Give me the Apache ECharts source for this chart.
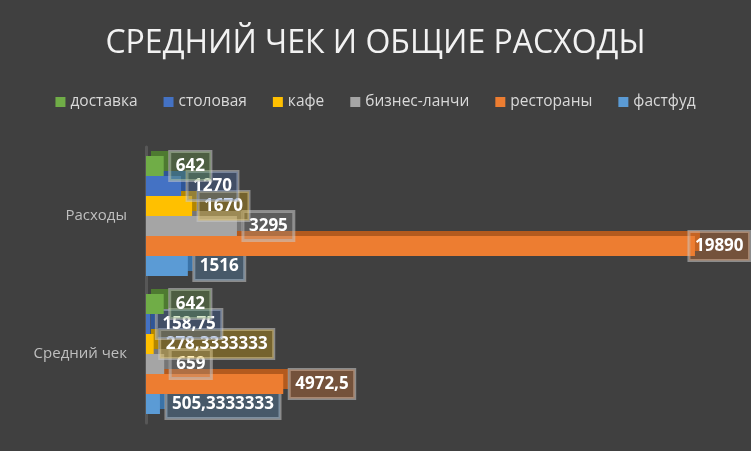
<!DOCTYPE html>
<html>
<head>
<meta charset="utf-8">
<script src="https://cdn.jsdelivr.net/npm/echarts@6/dist/echarts.min.js"></script>
<style>
html,body{margin:0;padding:0;background:#404040;}
#c{width:751px;height:451px;}
</style>
</head>
<body>
<div id="c"></div>
<script>
const titleText = 'СРЕДНИЙ ЧЕК И ОБЩИЕ РАСХОДЫ';
const categories = ['Расходы', 'Средний чек'];
const seriesNames = ['доставка', 'столовая', 'кафе', 'бизнес-ланчи', 'рестораны', 'фастфуд'];
const dostavka = [642, 642];
const stolovaya = [1270, 158.75];
const kafe = [1670, 278.3333333];
const biznesLanchi = [3295, 659];
const restorany = [19890, 4972.5];
const fastfud = [1516, 505.3333333];
const seriesValues = [dostavka, stolovaya, kafe, biznesLanchi, restorany, fastfud];

const colors = ['#70AD47', '#4472C4', '#FFC000', '#A5A5A5', '#ED7D31', '#5B9BD5'];
const darkColors = ['#4E7A31', '#2F5597', '#B38600', '#767676', '#B35A1E', '#3A73A8'];
const boxColors = ['rgba(112,173,71,0.28)', 'rgba(68,114,196,0.28)', 'rgba(255,192,0,0.28)',
  'rgba(165,165,165,0.28)', 'rgba(237,125,49,0.3)', 'rgba(91,155,213,0.28)'];

const allVals = seriesValues.flat();
const maxVal = Math.max(...allVals);

const chart = echarts.init(document.getElementById('c'));
chart.setOption({
  backgroundColor: '#404040',
  animation: false,
  title: {
    text: titleText,
    left: 'center',
    top: 23,
    textStyle: { color: '#f2f2f2', fontSize: 32, fontWeight: 'normal', fontFamily: 'Open Sans' }
  },
  legend: {
    data: seriesNames,
    top: 89,
    left: 'center',
    itemWidth: 10,
    itemHeight: 10,
    itemGap: 26,
    icon: 'rect',
    textStyle: { color: '#d9d9d9', fontSize: 15.5, fontFamily: 'Open Sans' }
  },
  grid: { left: 146, top: 147, width: 552, height: 276, containLabel: false },
  xAxis: {
    type: 'value',
    min: 0,
    max: 20000,
    show: false
  },
  yAxis: {
    type: 'category',
    data: categories,
    inverse: true,
    axisLine: { show: true, lineStyle: { color: '#575757', width: 3 } },
    axisTick: { show: false },
    axisLabel: { color: '#bfbfbf', fontSize: 15, fontFamily: 'Open Sans', margin: 19 }
  },
  series: seriesNames.map((name, i) => ({
    name: name,
    type: 'bar',
    z: 20 - i,
    barGap: '0%',
    barCategoryGap: '13%',
    itemStyle: {
      color: colors[i],
      shadowColor: darkColors[i],
      shadowBlur: 0,
      shadowOffsetX: 5,
      shadowOffsetY: -5
    },
    label: {
      show: true,
      position: 'right',
      distance: 6,
      color: '#ffffff',
      fontSize: 17,
      lineHeight: 18,
      fontWeight: 'bold',
      fontFamily: 'Open Sans',
      backgroundColor: boxColors[i],
      borderColor: 'rgba(200,200,200,0.55)',
      borderWidth: 1.5,
      padding: [6, 6, 5, 6],
      formatter: p => String(p.value).replace('.', ',')
    },
    data: seriesValues[i].map(v => v === maxVal ? { value: v, label: { offset: [-12, 0] } } : v)
  }))
});
</script>
</body>
</html>
